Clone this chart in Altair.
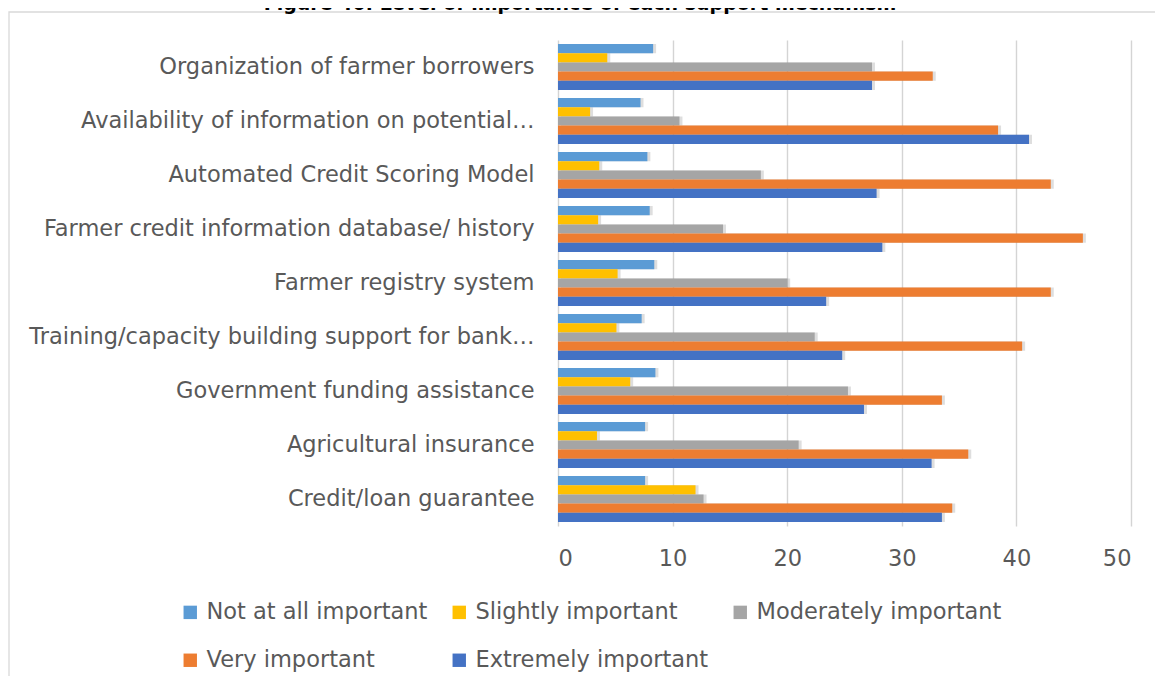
import altair as alt
import pandas as pd

categories = [
    "Organization of farmer borrowers",
    "Availability of information on potential…",
    "Automated Credit Scoring Model",
    "Farmer credit information database/ history",
    "Farmer registry system",
    "Training/capacity building support for bank…",
    "Government funding assistance",
    "Agricultural insurance",
    "Credit/loan guarantee",
]
series = [
    "Not at all important",
    "Slightly important",
    "Moderately important",
    "Very important",
    "Extremely important",
]
not_at_all = [8.3, 7.2, 7.8, 8.0, 8.4, 7.3, 8.5, 7.6, 7.6]
slightly = [4.3, 2.8, 3.6, 3.5, 5.2, 5.1, 6.3, 3.4, 12.0]
moderately = [27.4, 10.6, 17.7, 14.4, 20.0, 22.4, 25.3, 21.0, 12.7]
very = [32.7, 38.4, 43.0, 45.8, 43.0, 40.5, 33.5, 35.8, 34.4]
extremely = [27.4, 41.1, 27.8, 28.3, 23.4, 24.8, 26.7, 32.6, 33.5]
colors = ["#5B9BD5", "#FFC000", "#A5A5A5", "#ED7D31", "#4472C4"]
x_ticks = [0, 10, 20, 30, 40, 50]
title_text = "Figure 40: Level of importance of each support mechanism"

rows = []
for i, c in enumerate(categories):
    for s, vals in zip(series, [not_at_all, slightly, moderately, very, extremely]):
        rows.append({"category": c, "series": s, "value": vals[i]})
df = pd.DataFrame(rows)

FONT = "DejaVu Sans"
TXT = "#595959"

y_enc = alt.Y(
    "category:N", sort=categories,
    scale=alt.Scale(paddingInner=0.15, paddingOuter=0.075),
    axis=alt.Axis(title=None, ticks=False, domain=False, labelFontSize=22.5,
                  labelColor=TXT, labelFont=FONT, labelPadding=24, labelLimit=700),
)
yoff = alt.YOffset("series:N", sort=series, scale=alt.Scale(paddingInner=0, paddingOuter=0))
x_enc = alt.X(
    "value:Q", scale=alt.Scale(domain=[0, 50], nice=False),
    axis=alt.Axis(title=None, values=x_ticks, ticks=False, domain=False, grid=True,
                  gridColor="#d4d4d4", gridWidth=1.4, labelFontSize=22.5,
                  labelColor=TXT, labelFont=FONT, labelPadding=21),
)
color = alt.Color(
    "series:N", sort=series,
    scale=alt.Scale(domain=series, range=colors),
    legend=alt.Legend(title=None, orient="none", legendX=-379, legendY=561, columns=3,
                      direction="horizontal", symbolType="square", symbolSize=180,
                      symbolStrokeWidth=0, labelFontSize=22.5, labelColor=TXT,
                      labelFont=FONT, labelOffset=5, columnPadding=20, rowPadding=25,
                      padding=0, labelLimit=400),
)

border = alt.Chart(pd.DataFrame({"a": [0]})).mark_rect(
    fill="transparent", stroke="#d9d9d9", strokeWidth=1.3
).encode(x=alt.value(-549), x2=alt.value(700), y=alt.value(-28), y2=alt.value(700))

title = alt.Chart(pd.DataFrame({"t": [title_text]})).mark_text(
    fontSize=19, fontWeight="bold", font=FONT, color="black", align="center",
    baseline="alphabetic"
).encode(text="t:N", x=alt.value(22), y=alt.value(-30))

shadow = alt.Chart(df).mark_bar(
    color="black", opacity=0.13, xOffset=3, x2Offset=3, yOffset=4, y2Offset=4
).encode(x=x_enc, y=y_enc, yOffset=yoff)

bars = alt.Chart(df).mark_bar().encode(x=x_enc, y=y_enc, yOffset=yoff, color=color)

chart = alt.layer(border, title, shadow, bars).properties(
    width=573, height=486,
    padding={"left": 550, "top": 32, "right": 24, "bottom": 150},
    autosize=alt.AutoSizeParams(type="none"),
).configure_view(strokeWidth=0)

chart.save("out.html", embed_options={"renderer": "svg", "actions": False})
